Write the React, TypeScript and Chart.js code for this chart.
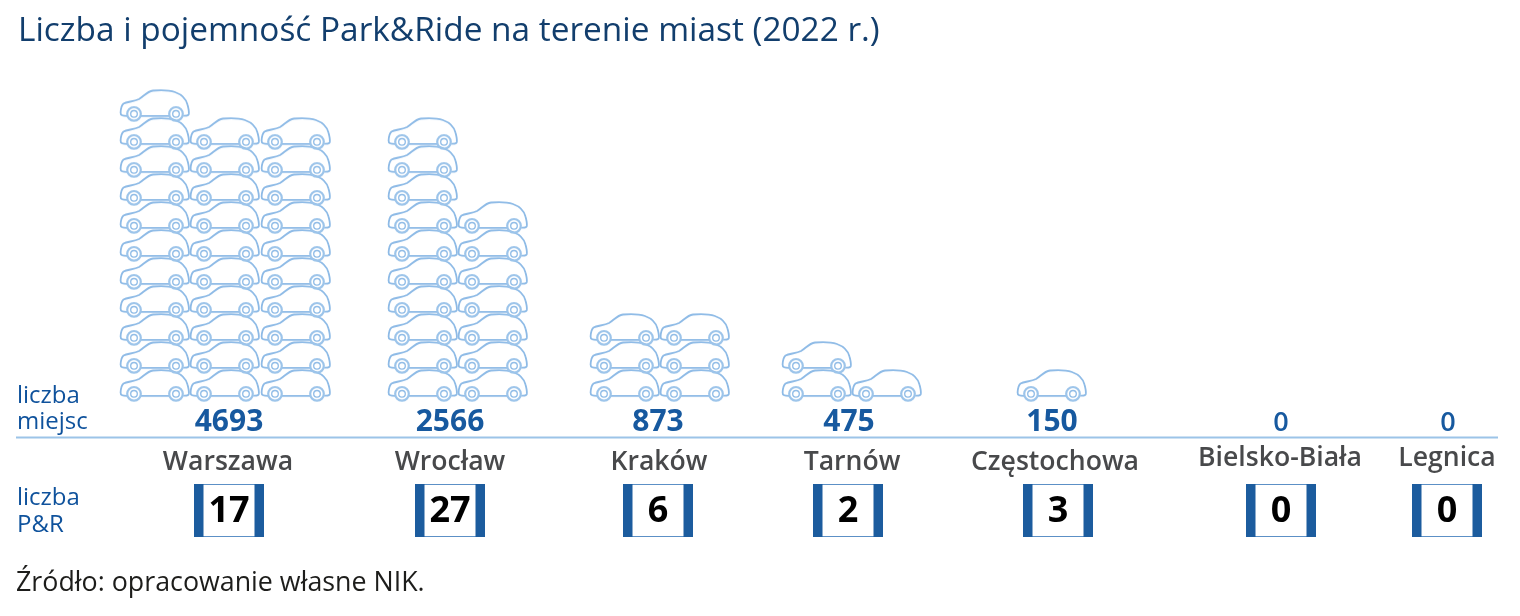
import React, { useEffect, useRef } from "react";
import { Chart, registerables } from "chart.js";

Chart.register(...registerables);

const TITLE = "Liczba i pojemność Park&Ride na terenie miast (2022 r.)";
const SOURCE = "Źródło: opracowanie własne NIK.";
const cities = ["Warszawa", "Wrocław", "Kraków", "Tarnów", "Częstochowa", "Bielsko-Biała", "Legnica"];
const places = [4693, 2566, 873, 475, 150, 0, 0];
const parkRide = [17, 27, 6, 2, 3, 0, 0];
// number of car icons (one icon is about 150 places) stacked in each column
const carColumns = [[11, 10, 10], [10, 7], [3, 3], [2, 1], [1], [], []];

// layout only: horizontal anchors in axis units
const columnX = [[155, 225, 296], [423, 493], [625, 695], [817, 887], [1052], [], []];
const valueX = [229, 450, 658, 849, 1052, 1281, 1448];
const nameX = [228, 450, 659, 852, 1055, 1280, 1447];
const boxX = [229, 450, 658, 848, 1058, 1281, 1447];
const BOX_ROW = -4.48;

const F = '"Open Sans", "Noto Sans", sans-serif';

function makeCar(): HTMLCanvasElement {
  const c = document.createElement("canvas");
  c.width = 72;
  c.height = 34;
  const g = c.getContext("2d")!;
  g.translate(1, 1.5);
  g.strokeStyle = "#8dbae6";
  g.lineWidth = 1.8;
  g.lineJoin = "round";
  g.lineCap = "round";
  g.beginPath();
  g.moveTo(7, 26.3);
  g.bezierCurveTo(3, 26.3, 0.4, 26, 0.6, 23);
  g.bezierCurveTo(0.8, 19, 1.6, 15.5, 3.5, 14);
  g.bezierCurveTo(7, 12, 14, 12, 19, 9.5);
  g.bezierCurveTo(24, 6.5, 27, 1.8, 33, 1);
  g.bezierCurveTo(40, 0.4, 50, 0.8, 55, 2.5);
  g.bezierCurveTo(62, 5, 66, 9, 67.5, 15);
  g.bezierCurveTo(68.6, 19, 69.2, 22, 68.8, 24.5);
  g.bezierCurveTo(68.4, 26.3, 66, 26.3, 64, 26.2);
  g.moveTo(21, 26.4);
  g.lineTo(49, 26.4);
  g.stroke();
  for (const wx of [14, 56]) {
    g.strokeStyle = "#9cc4ea";
    g.lineWidth = 2.2;
    g.beginPath();
    g.arc(wx, 24.3, 6.8, 0, Math.PI * 2);
    g.stroke();
    g.strokeStyle = "#8dbae6";
    g.lineWidth = 1.3;
    g.beginPath();
    g.arc(wx, 24.3, 3.3, 0, Math.PI * 2);
    g.stroke();
  }
  return c;
}

function makeBox(): HTMLCanvasElement {
  const c = document.createElement("canvas");
  c.width = 70;
  c.height = 53;
  const g = c.getContext("2d")!;
  g.fillStyle = "#ffffff";
  g.fillRect(0, 0, 70, 53);
  g.strokeStyle = "#5c90c6";
  g.lineWidth = 1;
  g.strokeRect(0.5, 0.5, 69, 52);
  g.fillStyle = "#1c5c9e";
  g.fillRect(0, 0, 9.5, 53);
  g.fillRect(60.5, 0, 9.5, 53);
  return c;
}

const textPlugin = {
  id: "tableText",
  afterDatasetsDraw(chart: any) {
    const { ctx, scales } = chart;
    const x = scales.x;
    const put = (t: string, px: number, py: number, font: string, color: string, align: CanvasTextAlign = "center") => {
      ctx.font = font;
      ctx.fillStyle = color;
      ctx.textAlign = align;
      ctx.textBaseline = "middle";
      ctx.fillText(t, px, py);
    };
    ctx.save();
    // separator line
    ctx.strokeStyle = "#9cc4e8";
    ctx.lineWidth = 2;
    ctx.beginPath();
    ctx.moveTo(x.getPixelForValue(16), 437.5);
    ctx.lineTo(x.getPixelForValue(1498), 437.5);
    ctx.stroke();
    cities.forEach((name, i) => {
      const zero = places[i] === 0;
      put(String(places[i]), x.getPixelForValue(valueX[i]), zero ? 423 : 422.5, `${zero ? 600 : 700} ${zero ? 27 : 30}px ${F}`, "#17599f");
      put(name, x.getPixelForValue(nameX[i]), i >= 5 ? 458.5 : 462, `600 26.6px ${F}`, "#48494b");
      put(String(parkRide[i]), x.getPixelForValue(boxX[i]), 512, `700 36px ${F}`, "#000000");
    });
    const lbl = `400 24px ${F}`;
    put("liczba", x.getPixelForValue(17), 396, lbl, "#0f529c", "left");
    put("miejsc", x.getPixelForValue(17), 422, lbl, "#0f529c", "left");
    put("liczba", x.getPixelForValue(17), 498, lbl, "#0f529c", "left");
    put("P&R", x.getPixelForValue(17), 525, lbl, "#0f529c", "left");
    put(SOURCE, x.getPixelForValue(16), 583, `400 26.8px ${F}`, "#1d1d1b", "left");
    ctx.restore();
  },
};

export default function App() {
  const ref = useRef<HTMLCanvasElement>(null);
  useEffect(() => {
    const car = makeCar();
    const box = makeBox();
    const carPoints: { x: number; y: number }[] = [];
    carColumns.forEach((cols, i) =>
      cols.forEach((n, k) => {
        for (let r = 0; r < n; r++) carPoints.push({ x: columnX[i][k], y: r });
      })
    );
    const chart = new Chart(ref.current!, {
      type: "scatter",
      data: {
        datasets: [
          { label: "liczba miejsc", data: carPoints, pointStyle: car as any, pointRadius: 20, order: 1, clip: false },
          { label: "liczba P&R", data: boxX.map((x) => ({ x, y: BOX_ROW })), pointStyle: box as any, pointRadius: 20, order: 2, clip: false },
        ],
      },
      options: {
        responsive: false,
        animation: false,
        devicePixelRatio: 1,
        layout: { autoPadding: false, padding: { left: 18, right: 0, top: 0, bottom: 0 } },
        plugins: {
          legend: { display: false },
          tooltip: { enabled: false },
          title: {
            display: true,
            text: TITLE,
            align: "start",
            color: "#123e6d",
            font: { family: F, size: 33.4, weight: "400", lineHeight: 1.2 },
            padding: { top: 11, bottom: 5 },
          },
        },
        scales: {
          x: { type: "linear", display: false, min: 18, max: 1520 },
          y: { type: "linear", display: false, min: -8.25, max: 11.75 },
        },
      },
      plugins: [textPlugin],
    });
    return () => chart.destroy();
  }, []);
  return (
    <div style={{ position: "absolute", left: 0, top: 0, width: 1520, height: 616, background: "#fff" }}>
      <canvas ref={ref} width={1520} height={616} style={{ display: "block" }} />
    </div>
  );
}
